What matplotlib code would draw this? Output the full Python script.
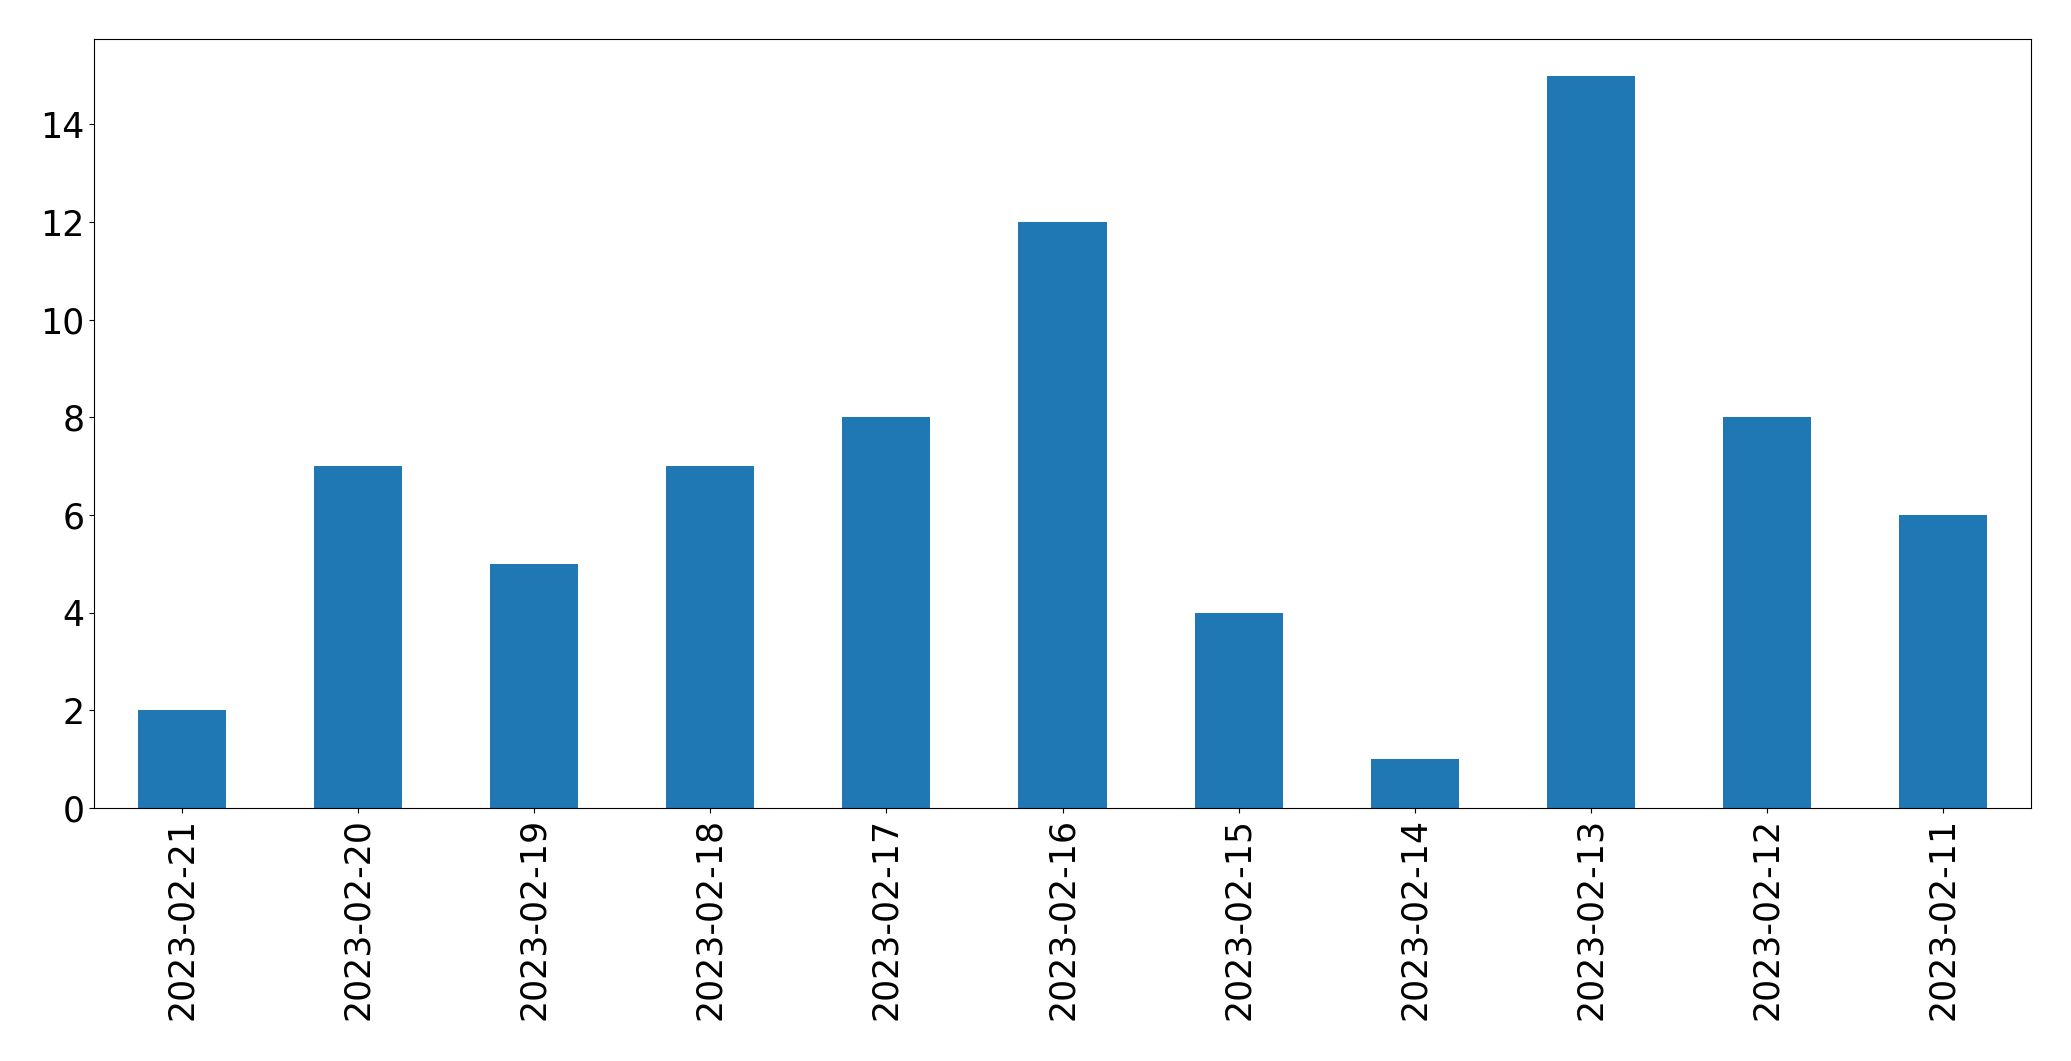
import matplotlib.pyplot as plt
import pandas as pd

dates = ["2023-02-21", "2023-02-20", "2023-02-19", "2023-02-18", "2023-02-17",
         "2023-02-16", "2023-02-15", "2023-02-14", "2023-02-13", "2023-02-12",
         "2023-02-11"]
counts = [2, 7, 5, 7, 8, 12, 4, 1, 15, 8, 6]

s = pd.Series(counts, index=dates)

fig = plt.figure(figsize=(20.71, 10.61), dpi=100)
ax = fig.add_axes([94 / 2071, 1 - 808 / 1061, (2031 - 94) / 2071, (808 - 39) / 1061])
s.plot(kind="bar", ax=ax, color="#1f77b4")
ax.tick_params(axis="both", labelsize=25)

fig.savefig("out.png", dpi=100)
